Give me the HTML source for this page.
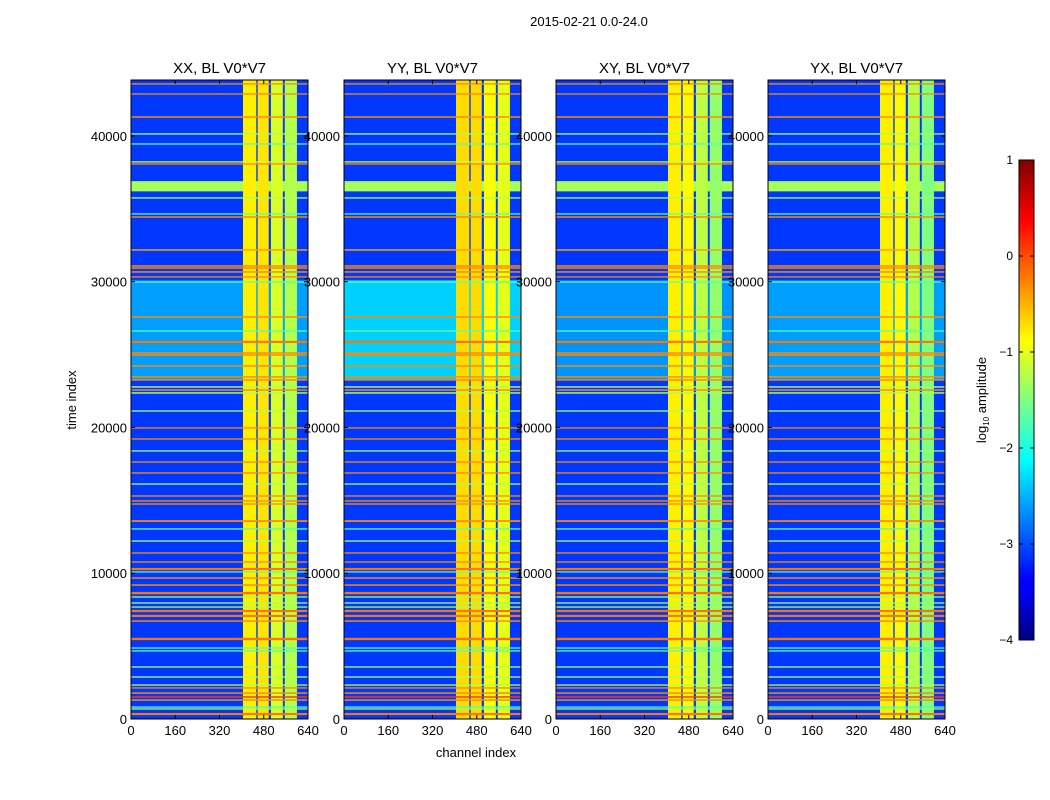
<!DOCTYPE html>
<html><head><meta charset="utf-8">
<style>
html,body{margin:0;padding:0;background:#fff;}
svg{display:block;font-family:"Liberation Sans",sans-serif;}
</style></head>
<body>
<svg id="fig" width="1050" height="800" viewBox="0 0 1050 800">
<defs>
<linearGradient id="jet" x1="0" y1="1" x2="0" y2="0">
<stop offset="0" stop-color="#000080"/><stop offset="0.11" stop-color="#0000ff"/>
<stop offset="0.125" stop-color="#0000ff"/><stop offset="0.375" stop-color="#00ffff"/>
<stop offset="0.625" stop-color="#ffff00"/><stop offset="0.875" stop-color="#ff0000"/>
<stop offset="1" stop-color="#800000"/>
</linearGradient>
</defs>
<text x="589" y="26" font-size="13" text-anchor="middle">2015-02-21 0.0-24.0</text>
<g id="panels"></g>
<text transform="translate(76,400) rotate(-90)" font-size="13" text-anchor="middle">time index</text>
<text x="476" y="757" font-size="13" text-anchor="middle">channel index</text>
<g>
<rect x="1019" y="160" width="15" height="480" fill="url(#jet)" stroke="#000" stroke-width="1"/>
<g id="cbticks"></g>
<text transform="translate(986,400) rotate(-90)" font-size="13" text-anchor="middle">log<tspan font-size="8" dy="3">10</tspan><tspan dy="-3"> amplitude</tspan></text>
</g>
</svg>
<script>
// ---- data ----
const panelTitles = ["XX, BL V0*V7","YY, BL V0*V7","XY, BL V0*V7","YX, BL V0*V7"];
const xTicks = [0,160,320,480,640];
const yTicks = [0,10000,20000,30000,40000];
const cbTicks = [1,0,-1,-2,-3,-4];
const bgStart = [0,23300,25900,30100,36200];
const bgEnd   = [43840,30100,23300,30100,36900];
const bgValXX = [-3.1,-2.6,-2.25,-2.6,-1.3];
const bgValYY = [-3.1,-2.35,-2.0,-2.35,-1.3];
const bgValXY = [-3.1,-2.65,-2.35,-2.65,-1.3];
const bgValYX = [-3.1,-2.6,-2.3,-2.6,-1.3];
const bandStart = [405,458,506,556];
const bandEnd   = [453,498,549,600];
const bandValXX = [-0.8,-0.75,-1.05,-1.25];
const bandValYY = [-0.7,-0.7,-0.9,-1.0];
const bandValXY = [-0.8,-0.85,-1.2,-1.4];
const bandValYX = [-0.8,-0.85,-1.25,-1.5];
const lineTime = [43570,42880,41300,40140,39450,38220,38080,35750,34650,34440,32180,31080,30940,30670,30330,29980,27580,26620,25870,25110,24970,24220,23470,23260,22780,22570,22370,21130,19970,19210,18390,17630,16880,16120,15300,14960,14750,13580,13040,12210,11390,10770,10290,10090,9670,9190,8640,8370,7960,7680,7410,7070,6720,5490,4870,4670,3570,2880,2330,2130,1780,1510,1300,820,690,340];
const lineVal  = [-0.3,-0.3,-0.3,-1.3,-1.7,-1.2,-0.3,-1.3,-1.7,-0.3,-0.4,-0.3,-0.3,-0.3,-0.3,-1.7,-0.3,-1.7,-0.2,-0.3,-0.3,-0.3,-0.3,-0.3,-1.3,-0.3,-1.3,-1.3,-0.3,-0.3,-1.3,-0.3,-0.3,-1.3,-0.3,-0.3,-0.3,-0.3,-1.7,-1.3,-0.3,-0.3,-0.2,-1.7,-0.3,-0.3,-0.2,-1.3,-1.3,-1.3,-0.2,-0.2,-0.3,-0.2,-1.7,-1.7,-1.3,-1.3,-1.3,-0.3,-0.3,0.1,-0.3,-1.7,-1.3,-0.2];
const lineWidth = [90,90,100,90,90,90,90,90,90,100,100,100,100,100,90,90,100,90,150,100,100,100,100,100,100,100,100,90,90,90,90,90,90,90,90,90,90,120,90,90,90,90,150,90,100,100,160,90,90,90,150,150,100,160,90,90,90,90,90,90,100,100,100,90,90,150];

const panelLeft = [131,344,556,768];
const panelW = 177, panelTop = 80, panelBottom = 719;
const tMax = 43840, cMax = 640;
const bgVals = [bgValXX,bgValYY,bgValXY,bgValYX];
const bandVals = [bandValXX,bandValYY,bandValXY,bandValYX];

function jet(v){
  const x = Math.max(0,Math.min(1,(v+4)/5));
  const c = a=>Math.round(255*Math.max(0,Math.min(1,1.5-Math.abs(4*x-a))));
  return `rgb(${c(3)},${c(2)},${c(1)})`;
}
const NS="http://www.w3.org/2000/svg";
function mk(tag,attrs,parent){const e=document.createElementNS(NS,tag);for(const k in attrs)e.setAttribute(k,attrs[k]);parent.appendChild(e);return e;}
const yScale = t => panelBottom - (t/tMax)*(panelBottom-panelTop);
const panelsG = document.getElementById('panels');

panelTitles.forEach((title,p)=>{
  const x0 = panelLeft[p];
  const xScale = c => x0 + (c/cMax)*panelW;
  const g = mk('g',{},panelsG);
  
  
  const cp = mk('clipPath',{id:'cp'+p},g);
  mk('rect',{x:x0,y:panelTop,width:panelW,height:panelBottom-panelTop},cp);
  const hm = mk('g',{'clip-path':'url(#cp'+p+')'},g);
  bgStart.forEach((s,i)=>{
    const r = mk('rect',{x:x0,y:yScale(bgEnd[i]),width:panelW,height:Math.max(0,yScale(s)-yScale(bgEnd[i])),fill:jet(bgVals[p][i])},hm);
    
    
  });
  bandStart.forEach((s,i)=>{
    const r = mk('rect',{x:xScale(s),y:panelTop,width:xScale(bandEnd[i])-xScale(s),height:panelBottom-panelTop,fill:jet(bandVals[p][i])},hm);
    
    
  });
  lineTime.forEach((t,i)=>{
    const y1 = yScale(t+lineWidth[i]/2), y2 = yScale(t-lineWidth[i]/2);
    const r = mk('rect',{x:x0,y:y1,width:panelW,height:y2-y1,fill:jet(lineVal[i])},hm);
    
    
  });
  mk('rect',{x:x0,y:panelTop,width:panelW,height:panelBottom-panelTop,fill:'none',stroke:'#000','stroke-width':1},g);
  const tt = mk('text',{x:x0+panelW/2,y:73,'font-size':15,'text-anchor':'middle'},g);
  tt.textContent = title;
  
  
  xTicks.forEach(v=>{
    const x = xScale(v);
    mk('line',{x1:x,x2:x,y1:panelBottom,y2:panelBottom-4,stroke:'#000'},g);
    mk('line',{x1:x,x2:x,y1:panelTop,y2:panelTop+4,stroke:'#000'},g);
    const tl = mk('text',{x:x,y:panelBottom+16,'font-size':13,'text-anchor':'middle'},g);
    tl.textContent = v;
    
    
  });
  yTicks.forEach(v=>{
    const y = yScale(v);
    mk('line',{x1:x0,x2:x0+4,y1:y,y2:y,stroke:'#000'},g);
    mk('line',{x1:x0+panelW,x2:x0+panelW-4,y1:y,y2:y,stroke:'#000'},g);
    const tl = mk('text',{x:x0-4,y:y+5,'font-size':13,'text-anchor':'end'},g);
    tl.textContent = v;
    
    
  });
});

const cbG = document.getElementById('cbticks');
cbTicks.forEach(v=>{
  const y = 640 - (v+4)/5*480;
  mk('line',{x1:1019,x2:1023,y1:y,y2:y,stroke:'#000'},cbG);
  mk('line',{x1:1034,x2:1030,y1:y,y2:y,stroke:'#000'},cbG);
  const tl = mk('text',{x:1013,y:y+4,'font-size':12,'text-anchor':'end'},cbG);
  tl.textContent = v<0 ? '\u2212'+Math.abs(v) : v;
  
  
});
</script>
</body></html>
